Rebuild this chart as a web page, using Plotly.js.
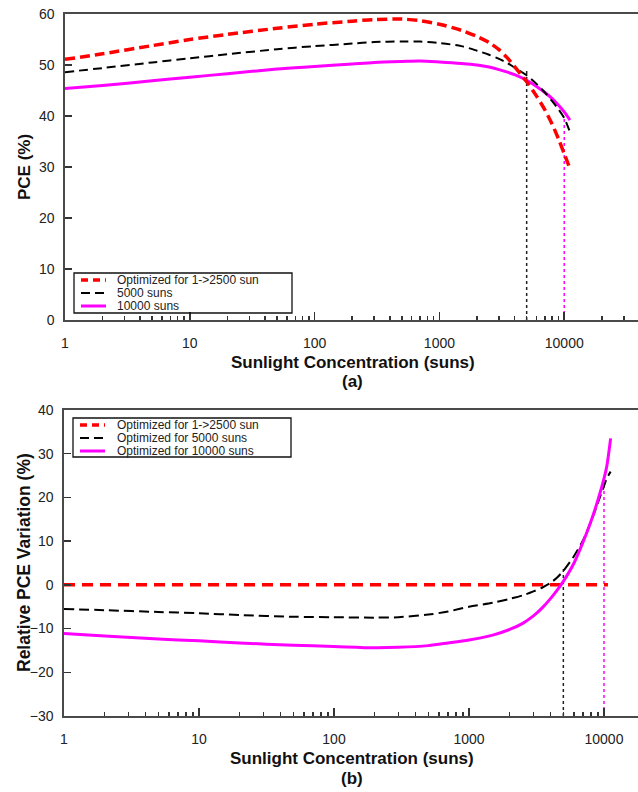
<!DOCTYPE html>
<html>
<head>
<meta charset="utf-8">
<script src="https://cdn.plot.ly/plotly-3.0.1.min.js"></script>
<style>html,body{margin:0;padding:0;background:#fff;overflow:hidden}#chart{width:638px;height:792px}</style>
</head>
<body>
<div id="chart"></div>
<script>
// ---------- data: panel (a) PCE vs sunlight concentration ----------
const topX = [1, 2, 5, 10, 20, 50, 100, 200, 300, 500, 700, 1000, 1500, 2000, 2500, 3000, 3500, 4000, 5000, 6000, 7000, 8000, 9000, 10000, 11100];
const topRed = [51.1, 52.2, 53.8, 55.0, 56.0, 57.2, 58.0, 58.6, 58.9, 59.0, 58.7, 58.0, 56.8, 55.6, 54.4, 53.0, 51.4, 49.7, 46.7, 43.9, 41.2, 38.4, 35.5, 32.6, 29.7];
const topBlack = [48.6, 49.4, 50.5, 51.3, 52.1, 53.1, 53.7, 54.2, 54.5, 54.6, 54.6, 54.3, 53.7, 52.8, 52.0, 51.2, 50.4, 49.5, 48.0, 46.3, 44.6, 42.9, 41.3, 39.6, 36.9];
const topMagenta = [45.4, 46.0, 46.9, 47.6, 48.3, 49.2, 49.7, 50.2, 50.5, 50.7, 50.8, 50.6, 50.3, 50.0, 49.6, 49.1, 48.6, 48.1, 47.0, 45.8, 44.6, 43.4, 42.1, 40.8, 39.2];
const topMarkBlackX = [5000, 5000], topMarkBlackY = [0, 49.0];
const topMarkMagX = [10000, 10000], topMarkMagY = [0, 39.6];

// ---------- data: panel (b) relative PCE variation ----------
const botX = [1, 2, 5, 10, 20, 50, 100, 200, 300, 500, 700, 1000, 1500, 2000, 2500, 3000, 3500, 4000, 4500, 5000, 6000, 7000, 8000, 9000, 10000, 10500, 11200];
const botRedX = [1, 10700], botRed = [0, 0];
const botBlack = [-5.5, -5.8, -6.2, -6.5, -6.9, -7.3, -7.4, -7.5, -7.4, -6.8, -6.1, -5.0, -4.1, -3.2, -2.4, -1.5, -0.6, 0.4, 1.7, 3.2, 6.6, 10.2, 14.4, 18.7, 22.6, 24.4, 25.9];
const botMagenta = [-11.1, -11.7, -12.4, -12.8, -13.3, -13.8, -14.1, -14.4, -14.3, -13.9, -13.3, -12.6, -11.5, -10.2, -8.8, -7.1, -5.2, -3.2, -1.2, 0.8, 5.0, 9.8, 14.5, 19.3, 24.3, 27.2, 33.5];
const botMarkBlackX = [5000, 5000], botMarkBlackY = [-30, 3.6];
const botMarkMagX = [10000, 10000], botMarkMagY = [-30, 24.5];

// ---------- labels ----------
const seriesTop = ['Optimized for 1->2500 sun', '5000 suns', '10000 suns'];
const seriesBot = ['Optimized for 1->2500 sun', 'Optimized for 5000 suns', 'Optimized for 10000 suns'];
const tickVals = [1, 10, 100, 1000, 10000];
const tickLabels = ['1', '10', '100', '1000', '10000'];
const xTitle = 'Sunlight Concentration (suns)';
const yTitleTop = 'PCE (%)';
const yTitleBot = 'Relative PCE Variation (%)';

const W = 638, H = 792;
const FONT = 'Liberation Sans, Arial, sans-serif';
const RED = '#ff0000', BLK = '#000000', MAG = '#ff00ff';
const px = v => v / W, py = v => 1 - v / H;

const minorVals = [];
for (let d = 1; d <= 10000; d *= 10) for (let k = 2; k <= 9; k++) minorVals.push(k * d);

function tr(x, y, xa, ya, color, width, dash, name) {
  return {x: x, y: y, xaxis: xa, yaxis: ya, type: 'scatter', mode: 'lines', name: name,
    line: {color: color, width: width, dash: dash, shape: 'spline', smoothing: 0.8}, showlegend: false, hoverinfo: 'skip'};
}

const data = [
  tr(topMarkBlackX, topMarkBlackY, 'x', 'y', '#222', 1.5, 'dot', 'mark5000'),
  tr(topMarkMagX, topMarkMagY, 'x', 'y', MAG, 1.5, 'dot', 'mark10000'),
  tr(topX, topMagenta, 'x', 'y', MAG, 3, 'solid', seriesTop[2]),
  tr(topX, topBlack, 'x', 'y', BLK, 2, '9px,5px', seriesTop[1]),
  tr(topX, topRed, 'x', 'y', RED, 3.5, '10px,5px', seriesTop[0]),
  tr(botMarkBlackX, botMarkBlackY, 'x2', 'y2', '#222', 1.5, 'dot', 'mark5000'),
  tr(botMarkMagX, botMarkMagY, 'x2', 'y2', MAG, 1.5, 'dot', 'mark10000'),
  tr(botRedX, botRed, 'x2', 'y2', RED, 3.5, '11px,7px', seriesBot[0]),
  tr(botX, botBlack, 'x2', 'y2', BLK, 2, '10px,5px', seriesBot[1]),
  tr(botX, botMagenta, 'x2', 'y2', MAG, 3, 'solid', seriesBot[2])
];

function xax(domain, anchor, range) {
  return {type: 'log', range: range, domain: domain, anchor: anchor,
    showline: true, linecolor: '#4a4a4a', linewidth: 1.6, mirror: true,
    showgrid: false, zeroline: false,
    tickmode: 'array', tickvals: tickVals, ticktext: tickLabels,
    ticks: 'inside', ticklen: 8, tickwidth: 1.5, tickcolor: '#333',
    minor: {tickmode: 'array', tickvals: minorVals, ticks: 'inside', ticklen: 4, tickwidth: 1.5, tickcolor: '#333', showgrid: false},
    ticklabelstandoff: 10,
    tickfont: {family: FONT, size: 14, color: '#222'}};
}
function yax(domain, anchor, range) {
  return {range: range, domain: domain, anchor: anchor, dtick: 10,
    showline: true, linecolor: '#4a4a4a', linewidth: 1.6, mirror: false,
    showgrid: false, zeroline: false,
    ticks: 'inside', ticklen: 7, tickwidth: 1.5, tickcolor: '#333',
    ticklabelstandoff: 6,
    tickfont: {family: FONT, size: 14, color: '#222'}};
}

const shapes = [];
const annotations = [];
function legend(box, lineX0, lineX1, textX, rows, names, styles) {
  shapes.push({type: 'rect', xref: 'paper', yref: 'paper', x0: px(box[0]), x1: px(box[1]), y0: py(box[2]), y1: py(box[3]),
    line: {color: '#111', width: 1.3}, fillcolor: 'rgba(255,255,255,0)'});
  rows.forEach((r, i) => {
    shapes.push({type: 'line', xref: 'paper', yref: 'paper', x0: px(lineX0), x1: px(lineX1), y0: py(r), y1: py(r),
      line: {color: styles[i][0], width: styles[i][1], dash: styles[i][2]}});
    annotations.push({xref: 'paper', yref: 'paper', x: px(textX), y: py(r), xanchor: 'left', yanchor: 'middle',
      text: names[i], showarrow: false, borderpad: 0, font: {family: FONT, size: 12, color: '#222'}});
  });
}
legend([74, 292, 273, 313], 81, 106, 116, [280, 293, 306], seriesTop,
  [[RED, 3.5, '7px,5px'], [BLK, 2, '9px,5px'], [MAG, 3, 'solid']]);
legend([73, 291, 418, 457], 80, 105, 116, [425, 438, 451], seriesBot,
  [[RED, 3.5, '7px,5px'], [BLK, 2, '9px,5px'], [MAG, 3, 'solid']]);

function txt(x, y, t, size, angle) {
  annotations.push({xref: 'paper', yref: 'paper', x: px(x), y: py(y), xanchor: 'center', yanchor: 'middle',
    text: '<b>' + t + '</b>', showarrow: false, textangle: angle || 0, font: {family: FONT, size: size, color: '#111'}});
}
txt(353, 362, xTitle, 17);
txt(353, 381, '(a)', 17);
txt(352, 758, xTitle, 17);
txt(352, 778, '(b)', 17);
txt(24, 167, yTitleTop, 17, -90);
txt(24, 563, yTitleBot, 17.5, -90);

const layout = {
  width: W, height: H, margin: {l: 0, r: 0, t: 0, b: 0},
  paper_bgcolor: '#fff', plot_bgcolor: '#fff', showlegend: false,
  font: {family: FONT},
  xaxis: xax([65 / W, 1], 'y', [0, 4.591]),
  yaxis: yax([1 - 320 / H, 1 - 14 / H], 'x', [0, 60]),
  xaxis2: xax([64 / W, 1], 'y2', [0, 4.252]),
  yaxis2: yax([1 - 716 / H, 1 - 410 / H], 'x2', [-30, 40]),
  shapes: shapes, annotations: annotations
};

Plotly.newPlot('chart', data, layout, {staticPlot: true, displayModeBar: false});
</script>
</body>
</html>
